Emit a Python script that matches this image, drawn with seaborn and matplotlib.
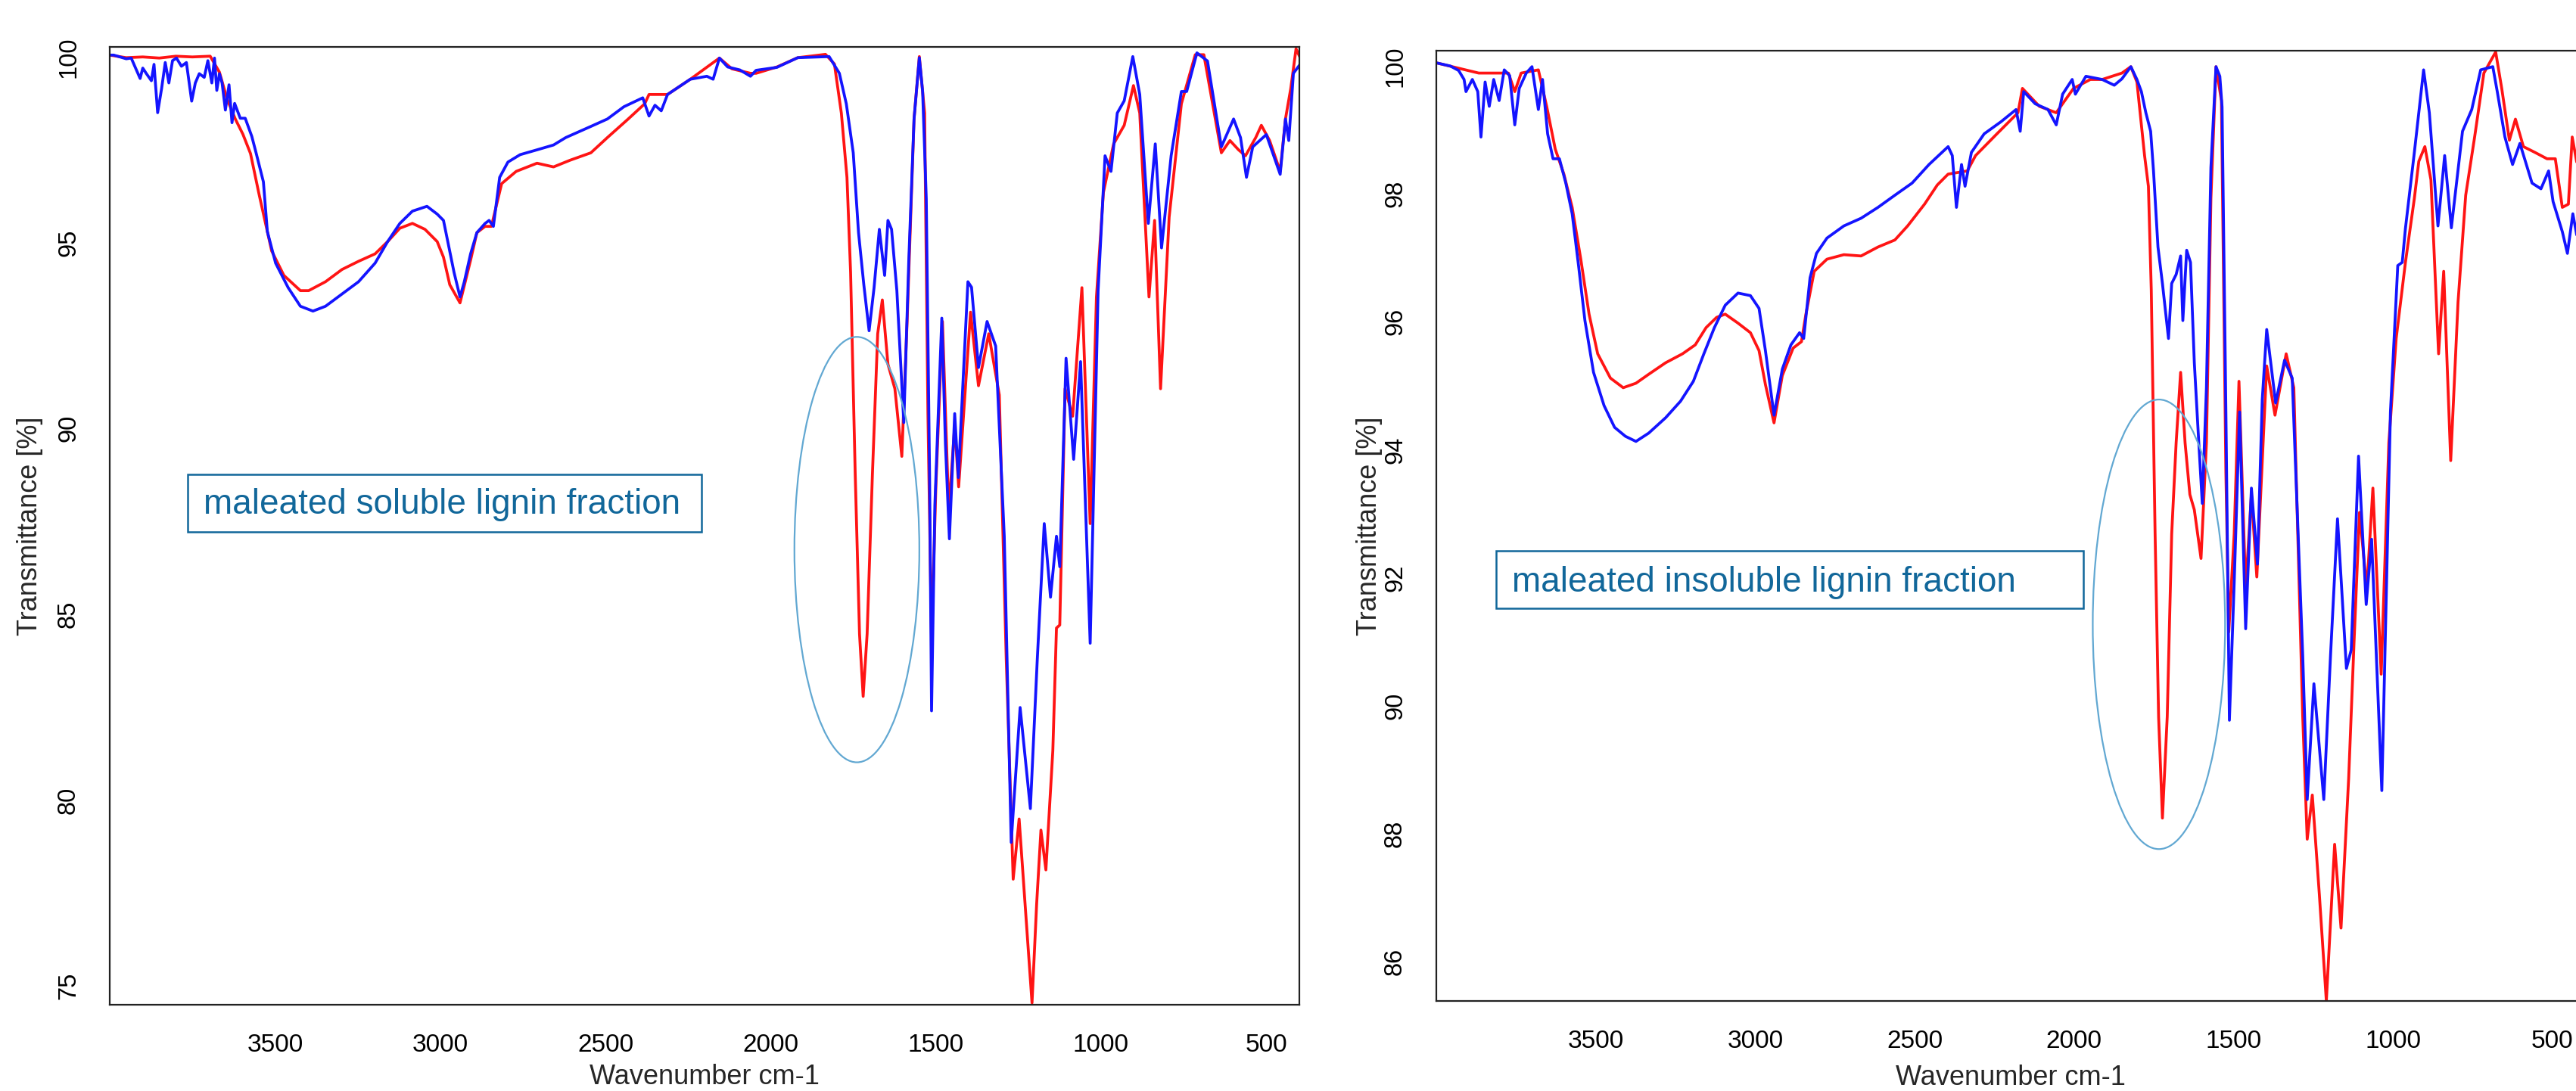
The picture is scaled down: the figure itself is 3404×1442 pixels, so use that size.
import numpy as np, pandas as pd, matplotlib.pyplot as plt
import seaborn as sns
from matplotlib.patches import Ellipse, Rectangle

sns.set_theme(style='white')
plt.rcParams['font.family'] = ['Liberation Sans', 'DejaVu Sans']

# ---- spectra: (wavenumber cm-1, transmittance %) ----
# left panel: soluble fraction, red = maleated, blue = reference
sol_red = [
    (4000, 100.05), (3950, 99.98), (3900, 100.0), (3850, 99.97), (3800, 100.02), (3750, 100.0),
    (3696, 100.02), (3668, 99.59), (3645, 98.87), (3620, 98.33), (3597, 97.92), (3574, 97.4),
    (3548, 96.3), (3510, 94.78), (3473, 94.12), (3423, 93.71), (3398, 93.71), (3347, 93.95),
    (3297, 94.28), (3247, 94.5), (3197, 94.7), (3159, 95.03), (3122, 95.39), (3084, 95.52),
    (3046, 95.36), (3009, 95.03), (2990, 94.61), (2971, 93.87), (2940, 93.38), (2908, 94.53),
    (2889, 95.27), (2864, 95.44), (2845, 95.44), (2814, 96.59), (2770, 96.92), (2707, 97.14),
    (2657, 97.04), (2607, 97.22), (2544, 97.42), (2494, 97.83), (2431, 98.33), (2381, 98.74),
    (2368, 98.99), (2331, 98.99), (2312, 98.99), (2243, 99.4), (2155, 99.97), (2117, 99.68),
    (2061, 99.56), (2044, 99.56), (1981, 99.73), (1918, 99.98), (1834, 100.07), (1807, 99.81),
    (1786, 98.49), (1769, 96.76), (1758, 94.2), (1744, 88.76), (1731, 84.47), (1720, 82.79),
    (1708, 84.47), (1692, 88.76), (1676, 92.55), (1662, 93.46), (1645, 91.73), (1624, 91.07),
    (1603, 89.25), (1587, 92.88), (1566, 98.33), (1550, 100.01), (1534, 98.49), (1524, 90.4),
    (1513, 84.3), (1500, 88.43), (1480, 92.88), (1461, 87.77), (1443, 90.08), (1431, 88.43),
    (1395, 93.13), (1371, 91.15), (1340, 92.55), (1308, 90.9), (1287, 83.8), (1266, 77.87),
    (1248, 79.49), (1230, 77.2), (1209, 74.54), (1195, 77.2), (1182, 79.19), (1167, 78.12),
    (1146, 81.33), (1135, 84.63), (1125, 84.71), (1109, 91.07), (1086, 90.33), (1058, 93.79),
    (1033, 87.44), (1014, 93.54), (993, 96.35), (962, 97.66), (930, 98.16), (902, 99.23),
    (883, 98.49), (855, 93.54), (838, 95.6), (820, 91.07), (794, 95.69), (757, 98.74),
    (715, 100.06), (689, 100.06), (636, 97.42), (610, 97.75), (584, 97.5), (563, 97.34),
    (532, 97.83), (515, 98.16), (490, 97.75), (458, 96.92), (442, 98.33), (426, 99.15),
    (410, 100.22), (397, 99.97),
]
sol_blue = [
    (4000, 100.05), (3988, 100.05), (3950, 99.95), (3935, 99.97), (3908, 99.42), (3900, 99.7),
    (3889, 99.55), (3874, 99.36), (3866, 99.8), (3855, 98.5), (3843, 99.15), (3832, 99.85),
    (3821, 99.3), (3810, 99.9), (3798, 99.97), (3783, 99.75), (3768, 99.85), (3752, 98.81),
    (3741, 99.3), (3729, 99.55), (3714, 99.45), (3703, 99.9), (3691, 99.3), (3683, 99.97),
    (3676, 99.1), (3668, 99.55), (3660, 99.3), (3650, 98.57), (3639, 99.25), (3630, 98.23),
    (3622, 98.75), (3605, 98.35), (3590, 98.35), (3570, 97.86), (3558, 97.45), (3535, 96.64),
    (3523, 95.3), (3498, 94.45), (3460, 93.79), (3423, 93.29), (3385, 93.16), (3347, 93.29),
    (3297, 93.62), (3247, 93.95), (3197, 94.45), (3159, 95.03), (3122, 95.52), (3084, 95.85),
    (3040, 95.98), (3009, 95.77), (2990, 95.6), (2977, 95.03), (2958, 94.2), (2940, 93.54),
    (2927, 93.95), (2908, 94.7), (2889, 95.27), (2864, 95.52), (2852, 95.6), (2839, 95.44),
    (2820, 96.76), (2795, 97.17), (2758, 97.37), (2707, 97.5), (2657, 97.63), (2620, 97.83),
    (2544, 98.13), (2494, 98.33), (2444, 98.66), (2387, 98.9), (2368, 98.41), (2350, 98.7),
    (2331, 98.55), (2312, 98.99), (2243, 99.4), (2193, 99.48), (2174, 99.4), (2155, 99.97),
    (2130, 99.73), (2093, 99.65), (2061, 99.48), (2044, 99.64), (1981, 99.72), (1918, 99.98),
    (1823, 100.01), (1792, 99.56), (1771, 98.74), (1750, 97.42), (1734, 95.27), (1718, 93.87),
    (1702, 92.63), (1687, 93.79), (1671, 95.36), (1655, 94.12), (1645, 95.6), (1634, 95.36),
    (1618, 93.71), (1597, 90.16), (1582, 94.5), (1566, 98.33), (1550, 99.98), (1540, 99.07),
    (1529, 96.18), (1519, 88.76), (1513, 82.4), (1503, 87.93), (1482, 92.97), (1471, 89.58),
    (1459, 87.03), (1443, 90.4), (1432, 88.68), (1403, 93.95), (1392, 93.8), (1371, 91.64),
    (1345, 92.88), (1319, 92.22), (1293, 87.1), (1272, 78.86), (1245, 82.49), (1214, 79.77),
    (1193, 83.8), (1172, 87.44), (1153, 85.46), (1135, 87.1), (1125, 86.28), (1106, 91.89),
    (1083, 89.17), (1062, 91.8), (1033, 84.22), (1009, 93.71), (988, 97.34), (970, 96.92),
    (951, 98.49), (930, 98.82), (904, 100.01), (883, 98.99), (857, 95.52), (836, 97.66),
    (817, 94.86), (788, 97.34), (757, 99.07), (741, 99.07), (710, 100.11), (678, 99.89),
    (636, 97.58), (599, 98.33), (578, 97.83), (560, 96.76), (541, 97.58), (500, 97.91),
    (458, 96.84), (442, 98.33), (432, 97.75), (418, 99.56), (397, 99.81),
]

# right panel: insoluble fraction
insol_red = [
    (4000, 100.05), (3867, 99.89), (3774, 99.89), (3754, 99.6), (3734, 99.89), (3680, 99.94),
    (3654, 99.37), (3627, 98.7), (3600, 98.31), (3574, 97.79), (3547, 96.98), (3521, 96.12),
    (3494, 95.5), (3454, 95.12), (3414, 94.97), (3374, 95.04), (3334, 95.18), (3281, 95.36),
    (3228, 95.5), (3188, 95.64), (3154, 95.91), (3121, 96.07), (3094, 96.12), (3054, 95.98),
    (3015, 95.83), (2988, 95.55), (2968, 95.02), (2941, 94.42), (2915, 95.16), (2881, 95.59),
    (2855, 95.69), (2841, 96.12), (2815, 96.79), (2775, 96.98), (2722, 97.05), (2668, 97.03),
    (2615, 97.17), (2562, 97.28), (2522, 97.5), (2469, 97.84), (2429, 98.14), (2395, 98.31),
    (2335, 98.36), (2309, 98.6), (2242, 98.94), (2176, 99.27), (2162, 99.65), (2109, 99.37),
    (2056, 99.27), (2002, 99.65), (1949, 99.79), (1912, 99.79), (1850, 99.89), (1822, 99.99),
    (1803, 99.75), (1789, 99.08), (1779, 98.6), (1767, 98.12), (1758, 96.5), (1746, 92.68),
    (1735, 89.82), (1723, 88.24), (1708, 89.82), (1694, 92.68), (1680, 94.11), (1666, 95.21),
    (1652, 94.11), (1637, 93.3), (1623, 93.06), (1602, 92.3), (1585, 94.11), (1571, 97.93),
    (1555, 99.99), (1538, 99.46), (1524, 93.64), (1515, 91.15), (1498, 92.68), (1483, 95.07),
    (1462, 91.82), (1444, 93.3), (1427, 92.01), (1396, 95.31), (1370, 94.54), (1335, 95.5),
    (1311, 94.97), (1283, 89.82), (1269, 87.91), (1253, 88.6), (1231, 87.05), (1209, 85.38),
    (1183, 87.83), (1163, 86.52), (1139, 88.86), (1122, 91.01), (1105, 93.02), (1082, 91.82),
    (1063, 93.4), (1037, 90.49), (1013, 94.11), (990, 95.74), (961, 96.93), (933, 97.93),
    (919, 98.51), (900, 98.74), (881, 98.22), (857, 95.5), (841, 96.79), (819, 93.83),
    (796, 96.31), (772, 97.98), (744, 98.89), (715, 99.89), (678, 100.22), (659, 99.65),
    (635, 98.84), (616, 99.17), (591, 98.74), (555, 98.65), (517, 98.55), (491, 98.55),
    (469, 97.79), (450, 97.84), (438, 98.89), (424, 98.5),
]
insol_blue = [
    (4000, 100.05), (3956, 100.0), (3930, 99.93), (3913, 99.79), (3907, 99.6), (3887, 99.79),
    (3870, 99.6), (3860, 98.89), (3847, 99.75), (3834, 99.37), (3820, 99.79), (3803, 99.46),
    (3787, 99.94), (3770, 99.85), (3754, 99.08), (3740, 99.65), (3718, 99.89), (3700, 99.99),
    (3680, 99.32), (3667, 99.79), (3651, 98.94), (3634, 98.55), (3614, 98.55), (3594, 98.17),
    (3574, 97.69), (3554, 96.88), (3534, 96.02), (3507, 95.21), (3474, 94.69), (3441, 94.35),
    (3407, 94.21), (3374, 94.13), (3334, 94.26), (3281, 94.5), (3234, 94.76), (3194, 95.07),
    (3161, 95.5), (3128, 95.91), (3094, 96.26), (3054, 96.45), (3015, 96.41), (2988, 96.21),
    (2968, 95.55), (2941, 94.54), (2915, 95.26), (2888, 95.64), (2861, 95.83), (2848, 95.74),
    (2828, 96.69), (2808, 97.07), (2775, 97.31), (2722, 97.5), (2668, 97.62), (2615, 97.79),
    (2562, 97.98), (2508, 98.17), (2455, 98.46), (2395, 98.74), (2382, 98.6), (2369, 97.79),
    (2353, 98.46), (2342, 98.12), (2322, 98.65), (2282, 98.94), (2229, 99.13), (2182, 99.32),
    (2169, 98.98), (2158, 99.6), (2122, 99.41), (2082, 99.32), (2056, 99.08), (2036, 99.56),
    (2006, 99.79), (1996, 99.56), (1963, 99.84), (1912, 99.79), (1874, 99.7), (1850, 99.8),
    (1822, 99.99), (1803, 99.79), (1789, 99.6), (1775, 99.27), (1760, 98.98), (1751, 98.36),
    (1737, 97.17), (1723, 96.6), (1704, 95.74), (1694, 96.6), (1680, 96.74), (1666, 97.03),
    (1659, 96.02), (1647, 97.12), (1635, 96.93), (1623, 95.36), (1609, 94.11), (1598, 93.16),
    (1585, 94.97), (1571, 98.41), (1555, 99.99), (1543, 99.84), (1536, 99.36), (1524, 94.59),
    (1513, 89.77), (1498, 91.92), (1481, 94.59), (1462, 91.2), (1444, 93.4), (1425, 92.21),
    (1410, 94.78), (1396, 95.88), (1368, 94.73), (1340, 95.4), (1316, 95.12), (1283, 90.77),
    (1269, 88.53), (1248, 90.34), (1217, 88.53), (1196, 90.77), (1174, 92.92), (1146, 90.58),
    (1131, 90.87), (1108, 93.9), (1084, 91.58), (1067, 92.6), (1035, 88.67), (1008, 94.59),
    (985, 96.88), (971, 96.93), (961, 97.46), (933, 98.65), (904, 99.94), (886, 99.27),
    (859, 97.5), (838, 98.6), (817, 97.47), (782, 98.98), (753, 99.32), (725, 99.94),
    (687, 99.99), (673, 99.6), (649, 98.89), (625, 98.46), (602, 98.79), (564, 98.17),
    (536, 98.08), (512, 98.36), (498, 97.88), (469, 97.41), (453, 97.07), (436, 97.69),
    (424, 97.36), (410, 97.6),
]

x_ticks = [3500, 3000, 2500, 2000, 1500, 1000, 500]
sol_yticks = [75, 80, 85, 90, 95, 100]
insol_yticks = [86, 88, 90, 92, 94, 96, 98, 100]
labels = ['maleated soluble lignin fraction', 'maleated insoluble lignin fraction']
# highlighted C=O band: centre wn, centre T, width, height
sol_circle = (1739, 86.74, 378, 11.45)
insol_circle = (1734, 91.27, 415, 7.03)

W, H = 3405, 1442
fig = plt.figure(figsize=(W / 100, H / 100), dpi=100)
ax1 = fig.add_axes([145 / W, 1 - 1328 / H, 1572 / W, 1266 / H])
ax2 = fig.add_axes([1898 / W, 1 - 1323 / H, 1517 / W, 1256 / H])

pal = {'maleated': '#ff1414', 'reference': '#1414ff'}
narrow = ['Liberation Sans Narrow', 'Liberation Sans']


def to_df(red, blue):
    r = pd.DataFrame(red, columns=['wn', 'T']).assign(sample='maleated')
    b = pd.DataFrame(blue, columns=['wn', 'T']).assign(sample='reference')
    return pd.concat([r, b], ignore_index=True)


panels = [
    (ax1, to_df(sol_red, sol_blue), (74.49, 100.27), sol_yticks, sol_circle, -0.056),
    (ax2, to_df(insol_red, insol_blue), (85.38, 100.24), insol_yticks, insol_circle, -0.047),
]

for ax, df, ylim, yt, circ, ylab_x in panels:
    sns.lineplot(data=df, x='wn', y='T', hue='sample', hue_order=['maleated', 'reference'],
                 palette=pal, estimator=None, sort=False, legend=False, lw=2.7, ax=ax)
    ax.set_xlim(4000, 400)
    ax.set_ylim(*ylim)
    ax.set_xticks(x_ticks)
    ax.set_yticks(yt)
    ax.set_xticklabels([str(v) for v in x_ticks], family=narrow, fontsize=24)
    ax.set_yticklabels([str(v) for v in yt], rotation=90, va='center', fontsize=23.5)
    ax.tick_params(axis='x', length=13.5, width=1.3, pad=14, direction='out', colors='#222222', labelcolor='black')
    ax.tick_params(axis='y', length=11, width=1.3, pad=17, direction='out', colors='#222222', labelcolor='black')
    for s in ax.spines.values():
        s.set_color('#222222')
        s.set_linewidth(1.6)
    ax.set_xlabel('Wavenumber cm-1', family=narrow, fontsize=26, va='top')
    ax.set_ylabel('Transmittance [%]', fontsize=26)
    ax.yaxis.set_label_coords(ylab_x, 0.5)
    ax.add_patch(Ellipse((circ[0], circ[1]), circ[2], circ[3], fill=False,
                         edgecolor='#62a8d2', lw=1.6, zorder=3))

# x labels sit at the very bottom edge, as in the source
ax1.xaxis.set_label_coords(0.5, -0.062)
ax2.xaxis.set_label_coords(0.5, -0.0665)

# boxed labels
boxes = [((248, 627, 927, 703), 269, 679), ((1977, 728, 2753, 804), 1998, 782)]
for txt, ((x0, y0, x1, y1), tx, ty) in zip(labels, boxes):
    fig.add_artist(Rectangle((x0 / W, 1 - y1 / H), (x1 - x0) / W, (y1 - y0) / H,
                             transform=fig.transFigure, fill=False, edgecolor='#11679a', lw=1.8))
    fig.text(tx / W, 1 - ty / H, txt, color='#11679a', fontsize=33, va='baseline', ha='left',
             family=['Liberation Sans', 'DejaVu Sans'])

fig.savefig('out.png', dpi=100)
